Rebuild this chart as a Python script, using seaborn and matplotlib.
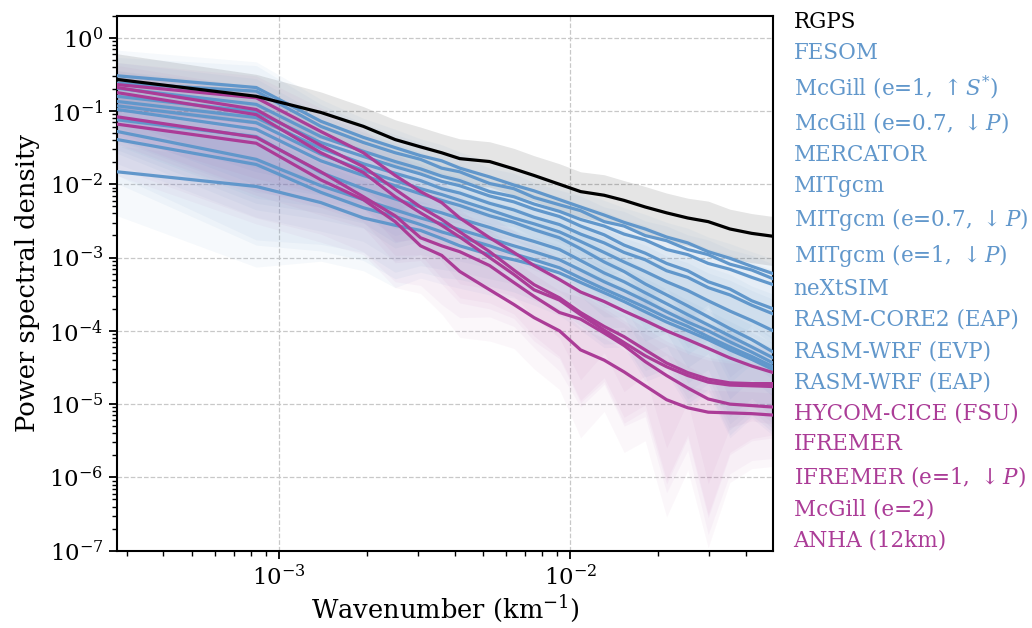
import numpy as np
import pandas as pd
import matplotlib
matplotlib.use("Agg")
import matplotlib.pyplot as plt
import matplotlib.ticker as mticker
from matplotlib.lines import Line2D
import seaborn as sns

# ---------------- data ----------------
# wavenumber grid (km^-1)
wavenumber = [2.778e-4, 8.333e-4, 1.389e-3, 1.944e-3, 2.5e-3, 3.056e-3, 3.611e-3,
              4.167e-3, 5.278e-3, 6.389e-3, 7.5e-3, 9.167e-3, 1.0833e-2, 1.3056e-2,
              1.5278e-2, 1.8056e-2, 2.1389e-2, 2.5278e-2, 2.9722e-2, 3.5278e-2,
              4.1944e-2, 4.9722e-2]

# log10 of power spectral density for each model
rgps = [-0.57, -0.80, -1.02, -1.21, -1.39, -1.49, -1.57, -1.65, -1.69, -1.79, -1.88,
        -2.00, -2.10, -2.15, -2.22, -2.31, -2.39, -2.46, -2.51, -2.61, -2.67, -2.71]

fesom = [-0.52, -0.68, -1.14, -1.36, -1.50, -1.61, -1.68, -1.78, -1.90, -2.01, -2.09,
         -2.21, -2.31, -2.42, -2.52, -2.61, -2.72, -2.80, -2.92, -3.01, -3.12, -3.22]
mcgill_s = [-0.62, -0.73, -1.21, -1.43, -1.57, -1.66, -1.78, -1.83, -1.99, -2.06, -2.18,
            -2.28, -2.36, -2.51, -2.57, -2.70, -2.77, -2.89, -2.96, -3.09, -3.17, -3.29]
mcgill_p = [-0.69, -0.91, -1.35, -1.55, -1.69, -1.79, -1.89, -1.95, -2.10, -2.17, -2.27,
            -2.37, -2.48, -2.57, -2.68, -2.76, -2.89, -2.96, -3.08, -3.16, -3.27, -3.37]
mercator = [-0.80, -1.01, -1.43, -1.62, -1.76, -1.86, -1.96, -2.02, -2.16, -2.24, -2.34,
            -2.44, -2.57, -2.69, -2.83, -2.94, -3.08, -3.18, -3.33, -3.43, -3.59, -3.70]
mitgcm = [-0.87, -1.09, -1.51, -1.72, -1.85, -1.95, -2.06, -2.12, -2.26, -2.35, -2.45,
          -2.55, -2.68, -2.80, -2.93, -3.03, -3.18, -3.27, -3.41, -3.51, -3.65, -3.77]
mitgcm_07 = [-0.93, -1.16, -1.59, -1.81, -1.95, -2.06, -2.14, -2.22, -2.35, -2.46, -2.54,
             -2.65, -2.78, -2.93, -3.06, -3.19, -3.33, -3.45, -3.59, -3.73, -3.86, -4.00]
mitgcm_1 = [-0.98, -1.25, -1.68, -1.88, -2.02, -2.13, -2.22, -2.29, -2.43, -2.52, -2.62,
            -2.73, -2.88, -3.06, -3.19, -3.36, -3.51, -3.66, -3.81, -3.97, -4.12, -4.29]
nextsim = [-1.12, -1.35, -1.84, -2.06, -2.20, -2.31, -2.39, -2.47, -2.59, -2.70, -2.78,
           -2.89, -3.04, -3.21, -3.33, -3.48, -3.63, -3.78, -3.92, -4.07, -4.22, -4.37]
rasm_core2 = [-1.28, -1.66, -2.02, -2.21, -2.35, -2.46, -2.54, -2.62, -2.74, -2.84, -2.92,
              -3.03, -3.17, -3.33, -3.45, -3.59, -3.74, -3.88, -4.00, -4.15, -4.29, -4.44]
rasm_wrf_evp = [-1.39, -1.73, -2.11, -2.32, -2.44, -2.55, -2.65, -2.72, -2.84, -2.95, -3.03,
                -3.14, -3.28, -3.43, -3.55, -3.68, -3.82, -3.94, -4.08, -4.22, -4.35, -4.49]
rasm_wrf_eap = [-1.83, -2.03, -2.25, -2.46, -2.56, -2.63, -2.74, -2.84, -2.96, -3.03, -3.10,
                -3.21, -3.34, -3.48, -3.60, -3.74, -3.88, -4.00, -4.12, -4.26, -4.39, -4.53]

hycom = [-0.64, -0.82, -1.28, -1.57, -1.88, -2.10, -2.25, -2.46, -2.73, -2.93, -3.11,
         -3.30, -3.47, -3.60, -3.73, -3.86, -4.00, -4.12, -4.24, -4.37, -4.48, -4.57]
ifremer = [-0.68, -0.98, -1.47, -1.76, -2.07, -2.31, -2.48, -2.65, -2.92, -3.17, -3.37,
           -3.55, -3.75, -3.94, -4.08, -4.26, -4.44, -4.57, -4.66, -4.71, -4.72, -4.72]
ifremer_p = [-0.75, -1.05, -1.57, -1.84, -2.17, -2.39, -2.56, -2.72, -3.00, -3.23, -3.44,
             -3.58, -3.78, -3.99, -4.16, -4.34, -4.49, -4.61, -4.70, -4.74, -4.75, -4.76]
mcgill_e2 = [-1.08, -1.36, -1.83, -2.17, -2.43, -2.73, -2.84, -2.92, -3.11, -3.34, -3.53,
             -3.75, -3.84, -4.03, -4.20, -4.42, -4.61, -4.78, -4.93, -5.00, -5.02, -5.04]
anha = [-1.18, -1.44, -1.94, -2.21, -2.51, -2.84, -2.97, -3.19, -3.44, -3.64, -3.82,
        -4.00, -4.26, -4.40, -4.56, -4.75, -4.94, -5.05, -5.11, -5.12, -5.13, -5.15]

# spread of the shaded envelopes (log10 offsets from each curve)
rgps_hi = [0.35, 0.30, 0.28, 0.27, 0.27, 0.27, 0.26, 0.27, 0.27, 0.28, 0.27,
           0.28, 0.27, 0.28, 0.27, 0.28, 0.27, 0.27, 0.28, 0.27, 0.27, 0.27]
rgps_lo = [-0.40, -0.38, -0.36, -0.35, -0.35, -0.35, -0.34, -0.35, -0.35, -0.36, -0.35,
           -0.36, -0.35, -0.37, -0.36, -0.38, -0.37, -0.38, -0.39, -0.40, -0.40, -0.40]
blue_hi = [0.35, 0.35, 0.30, 0.26, 0.25, 0.23, 0.22, 0.22, 0.21, 0.21, 0.20,
           0.20, 0.20, 0.20, 0.20, 0.20, 0.20, 0.20, 0.20, 0.20, 0.20, 0.20]
blue_lo = [-0.60, -1.10, -0.80, -0.72, -0.85, -0.65, -0.62, -0.58, -0.55, -0.52, -0.55,
           -0.58, -0.65, -0.75, -0.62, -0.95, -0.70, -1.05, -0.72, -1.20, -0.80, -0.90]
mag_hi = [0.30, 0.30, 0.32, 0.32, 0.32, 0.30, 0.30, 0.30, 0.30, 0.30, 0.30,
          0.30, 0.30, 0.30, 0.30, 0.30, 0.30, 0.30, 0.30, 0.30, 0.30, 0.30]
mag_lo = [-0.70, -1.10, -0.85, -0.75, -0.90, -0.65, -0.80, -0.90, -0.70, -0.60, -0.70,
          -0.80, -1.20, -0.70, -1.10, -0.75, -1.60, -0.85, -1.85, -0.95, -0.75, -0.70]

labels = ["RGPS", "FESOM", r"McGill (e=1, $\uparrow S^{*}$)", r"McGill (e=0.7, $\downarrow P$)",
          "MERCATOR", "MITgcm", r"MITgcm (e=0.7, $\downarrow P$)", r"MITgcm (e=1, $\downarrow P$)",
          "neXtSIM", "RASM-CORE2 (EAP)", "RASM-WRF (EVP)", "RASM-WRF (EAP)",
          "HYCOM-CICE (FSU)", "IFREMER", r"IFREMER (e=1, $\downarrow P$)", "McGill (e=2)",
          "ANHA (12km)"]
series = [rgps, fesom, mcgill_s, mcgill_p, mercator, mitgcm, mitgcm_07, mitgcm_1, nextsim,
          rasm_core2, rasm_wrf_evp, rasm_wrf_eap, hycom, ifremer, ifremer_p, mcgill_e2, anha]
groups = ["obs"] + ["blue"] * 11 + ["mag"] * 5

BLACK = "#000000"
BLUE = "#6197cb"
MAG = "#ab3c97"
group_color = {"obs": BLACK, "blue": BLUE, "mag": MAG}
group_band = {"obs": (rgps_hi, rgps_lo), "blue": (blue_hi, blue_lo), "mag": (mag_hi, mag_lo)}
group_alpha = {"obs": 0.10, "blue": 0.055, "mag": 0.04}

# ---------------- style ----------------
sns.set_theme(style="ticks")
plt.rcParams["font.family"] = ["DejaVu Serif"]
plt.rcParams["mathtext.fontset"] = "dejavuserif"
plt.rcParams["text.color"] = "black"
plt.rcParams["axes.labelcolor"] = "black"

fig = plt.figure(figsize=(10.32, 6.28), dpi=100)
ax = fig.add_axes([0.1137, 0.1231, 0.6356, 0.852])

k = np.array(wavenumber)
rows = []
for lab, s, g in zip(labels, series, groups):
    s = np.array(s)
    hi, lo = group_band[g]
    ax.fill_between(k, 10.0 ** (s + np.array(lo)), 10.0 ** (s + np.array(hi)),
                    color=group_color[g], alpha=group_alpha[g], lw=0, zorder=1)
    for kk, v in zip(k, s):
        rows.append({"k": kk, "psd": 10.0 ** v, "model": lab})
df = pd.DataFrame(rows)

palette = {lab: group_color[g] for lab, g in zip(labels, groups)}
order = labels[1:] + labels[:1]  # draw RGPS last
for lab in order:
    sub = df[df["model"] == lab]
    sns.lineplot(data=sub, x="k", y="psd", color=palette[lab], lw=2.3,
                 estimator=None, sort=False, ax=ax, zorder=5 if lab == "RGPS" else 3)

ax.set_xscale("log")
ax.set_yscale("log")
ax.set_xlim(wavenumber[0], wavenumber[-1])
ax.set_ylim(1e-7, 2.0)

ax.yaxis.set_major_locator(mticker.LogLocator(base=10, numticks=20))
ax.yaxis.set_minor_locator(mticker.LogLocator(base=10, subs=np.arange(2, 10), numticks=20))
ax.xaxis.set_major_locator(mticker.LogLocator(base=10, numticks=20))
ax.xaxis.set_minor_locator(mticker.LogLocator(base=10, subs=np.arange(2, 10), numticks=20))
ax.yaxis.set_minor_formatter(mticker.NullFormatter())
ax.xaxis.set_minor_formatter(mticker.NullFormatter())

ax.grid(True, which="major", ls="--", color="#c8c8c8", lw=0.9, zorder=0)
ax.set_axisbelow(True)
for sp in ax.spines.values():
    sp.set_color("black")
    sp.set_linewidth(1.5)
ax.tick_params(axis="both", which="major", direction="out", length=6, width=1.3,
               labelsize=16.5, color="black", labelcolor="black", pad=4,
               top=False, right=False)
ax.tick_params(axis="both", which="minor", direction="out", length=3.5, width=1.0,
               color="black", top=False, right=False)

ax.set_xlabel(r"Wavenumber (km$^{-1}$)", fontsize=18.5, labelpad=2, color="black")
ax.set_ylabel("Power spectral density", fontsize=18.5, labelpad=7, color="black")

handles = [Line2D([], [], lw=0) for _ in labels]
leg = ax.legend(handles, labels, loc="upper left", bbox_to_anchor=(0.769, 0.982),
                bbox_transform=fig.transFigure, frameon=False, handlelength=0,
                handletextpad=0, borderpad=0, borderaxespad=0, labelspacing=0.42,
                fontsize=15.5, labelcolor=[group_color[g] for g in groups])

fig.savefig("out.png", dpi=100)
